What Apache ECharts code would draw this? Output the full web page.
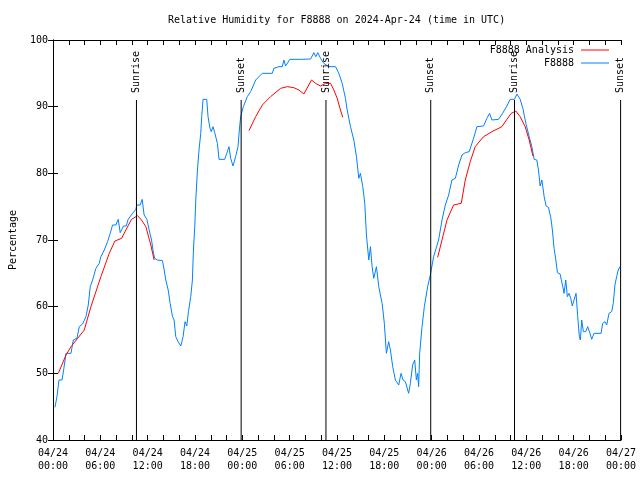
<!DOCTYPE html>
<html><head><meta charset="utf-8">
<script src="https://cdn.jsdelivr.net/npm/echarts@6/dist/echarts.min.js"></script>
<style>html,body{margin:0;padding:0;background:#fff}#c{width:640px;height:480px}</style>
</head><body><div id="c"></div>
<script>
const FONT = 'DejaVu Sans Mono';
const titleText = 'Relative Humidity for F8888 on 2024-Apr-24 (time in UTC)';
const yName = 'Percentage';
// x in hours since 04/24 00:00 UTC
const xTickLabels = ['04/24\n00:00','04/24\n06:00','04/24\n12:00','04/24\n18:00','04/25\n00:00','04/25\n06:00','04/25\n12:00','04/25\n18:00','04/26\n00:00','04/26\n06:00','04/26\n12:00','04/26\n18:00','04/27\n00:00'];
const obsHumidity = [[0.25,44.9],[0.5,46.5],[0.76,49],[1.14,49],[1.35,50.5],[1.65,53],[2.28,53],[2.57,55],[3.04,55.25],[3.33,57],[3.75,57.4],[4.18,58.5],[4.47,60.25],[4.72,63],[5.02,64],[5.44,65.75],[5.86,66.5],[6.07,67.5],[6.5,68.5],[6.92,69.75],[7.25,71],[7.55,72.25],[7.97,72.25],[8.27,73.1],[8.52,71.1],[8.94,72.1],[9.28,72.1],[9.53,73.1],[10.08,74],[10.5,74.6],[10.63,75.25],[11.05,75.25],[11.3,76.1],[11.55,73.75],[11.9,73.1],[12.19,71.5],[12.49,70],[12.74,68],[12.9,67.25],[13.24,67],[13.88,66.9],[14.09,65.5],[14.3,64],[14.6,62.5],[14.85,60.5],[15.15,58.5],[15.35,58],[15.56,55.5],[15.86,54.75],[16.2,54.1],[16.49,55.5],[16.74,57.75],[16.96,57.1],[17.17,59.25],[17.46,61.5],[17.67,64],[17.8,68.5],[17.97,72],[18.1,76],[18.31,80.5],[18.51,83.5],[18.73,86],[18.85,88.5],[19.02,91.1],[19.49,91.1],[19.65,88.5],[19.9,86.75],[20.06,86.25],[20.28,87],[20.5,86.1],[20.84,84.5],[21.05,82.1],[21.76,82.1],[22.02,83],[22.31,84],[22.52,82.25],[22.82,81.1],[23.15,82.5],[23.45,84],[23.62,86.5],[23.79,88.5],[24.13,90],[24.63,91.5],[25.05,92.25],[25.27,92.3],[25.69,94],[26.53,95],[27.8,95],[28,95.75],[28.64,96],[29.06,96],[29.27,97],[29.48,96.1],[30.03,97.1],[31.38,97.1],[32.65,97.15],[33.07,98.1],[33.32,97.5],[33.57,98.1],[33.91,97.25],[34.33,96.5],[34.96,96],[35.81,96],[36.23,95],[36.66,93.5],[37.07,91.25],[37.29,89.5],[37.71,87],[38.13,85],[38.47,82.5],[38.76,79.25],[38.97,80],[39.27,78],[39.52,75.5],[39.73,70.75],[40.03,67],[40.24,69],[40.45,66],[40.66,64.25],[41,66],[41.29,63],[41.72,60.5],[42,57.5],[42.26,53],[42.55,54.75],[42.77,53.5],[43.06,51],[43.4,49],[43.82,48.25],[44.12,50],[44.38,49],[44.67,48.75],[45.08,47],[45.3,48.5],[45.59,51.25],[45.85,52],[46.06,49],[46.22,50],[46.35,48],[46.48,53],[46.78,57],[47.07,60],[47.49,63],[47.83,64.75],[48.25,67.5],[48.88,70],[49.31,73],[49.73,75.25],[50.15,76.75],[50.57,79],[51,79.25],[51.42,81.25],[51.84,82.75],[52.26,83.1],[52.76,83.25],[53.31,85.25],[53.74,87],[54.58,87.1],[55,88.25],[55.34,89],[55.64,88],[56.48,88.1],[56.99,89],[57.53,90.1],[57.95,91.1],[58.5,91.1],[58.8,91.9],[59.22,91.1],[59.56,89.75],[59.94,87.5],[60.36,85.5],[60.7,84],[60.99,82.1],[61.33,82],[61.54,80.5],[61.75,78.1],[61.97,79],[62.26,76.5],[62.51,75.1],[62.8,74.9],[63.1,73.4],[63.3,71.5],[63.52,68.75],[63.74,67],[63.94,65.1],[64.28,64.9],[64.62,63],[64.78,62],[65,64],[65.2,61.5],[65.42,62],[65.63,61.25],[65.83,60.1],[66.05,61],[66.3,62],[66.51,58.5],[66.72,55.5],[66.85,55],[67.02,58],[67.23,56.25],[67.53,56.25],[67.78,57],[68.07,56],[68.29,55.1],[68.58,56],[69.47,56],[69.68,57.5],[69.97,57.75],[70.19,57.25],[70.48,59],[70.82,59.25],[71.02,60.5],[71.23,63.25],[71.45,64.5],[71.65,65.5],[71.87,66]];
const analysisDay1 = [[0.67,50],[1.65,52.75],[2.28,54],[3.12,55.25],[3.96,56.5],[4.81,60],[6.07,64.5],[7.13,68],[7.85,69.85],[8.69,70.25],[9.24,71.5],[9.95,73.1],[10.71,73.65],[11.22,73],[11.77,72],[12.4,69.25],[12.82,67]];
const analysisDay2 = [[24.84,86.4],[25.69,88.5],[26.53,90.25],[27.58,91.5],[28.85,92.75],[29.7,93],[30.53,92.85],[31.17,92.5],[31.8,91.9],[32.77,94],[33.28,93.5],[33.91,93.1],[34.54,93.5],[35.18,93.5],[35.6,92.5],[36.02,91.25],[36.44,89.5],[36.73,88.4]];
const analysisDay3 = [[48.76,67.4],[49.31,70],[49.94,73],[50.78,75.25],[51.75,75.5],[52.26,79],[52.89,81.75],[53.52,84],[54.58,85.5],[55.64,86.25],[56.9,87],[57.53,88.1],[58.08,89],[58.67,89.35],[59.22,88.5],[59.85,87],[60.36,85],[60.83,82.6]];
const sunTimes = [10.58, 23.85, 34.6, 47.88, 58.5, 71.95];
const sunLabels = ['Sunrise','Sunset','Sunrise','Sunset','Sunrise','Sunset'];
const sunLineTop = 91;

const chart = echarts.init(document.getElementById('c'), null, {renderer:'canvas'});
const tickCommon = {
  axisLine:{show:true, lineStyle:{color:'#000', width:1}},
  axisTick:{show:true, inside:true, length:5, lineStyle:{color:'#000'}},
  splitLine:{show:false}
};
const legendText = {fontFamily:FONT, fontSize:10, color:'#000', padding:[0,2,0,0]};
const redSeries = [analysisDay1, analysisDay2, analysisDay3].map(d => ({
  name:'F8888 Analysis', type:'line', data:d, showSymbol:false, symbol:'none',
  lineStyle:{color:'#ff0000', width:1}, itemStyle:{color:'#ff0000'}, z:3
}));
chart.setOption({
  animation:false,
  title:{text:titleText, left:168, top:15, padding:0,
    textStyle:{fontFamily:FONT, fontSize:10, fontWeight:'normal', color:'#000'}},
  legend:[
    {data:['F8888 Analysis'], right:31, top:45, align:'right', orient:'vertical', padding:0,
     icon:'rect', itemWidth:28, itemHeight:1, textStyle:legendText},
    {data:['F8888'], right:31, top:58, align:'right', orient:'vertical', padding:0,
     icon:'rect', itemWidth:28, itemHeight:1, textStyle:legendText}
  ],
  grid:{left:52, right:19, top:40, bottom:40, containLabel:false},
  xAxis:[
    Object.assign({type:'value', min:0, max:72, interval:6, position:'bottom',
      axisLabel:{fontFamily:FONT, fontSize:10, color:'#000', margin:7, lineHeight:13,
        formatter:v => xTickLabels[Math.round(v/6)]},
      minorTick:{show:true, splitNumber:3, length:5, lineStyle:{color:'#000'}}}, tickCommon),
    Object.assign({type:'value', min:0, max:72, interval:6, position:'top',
      axisLabel:{show:false},
      minorTick:{show:true, splitNumber:3, length:5, lineStyle:{color:'#000'}}}, tickCommon)
  ],
  yAxis:[
    Object.assign({type:'value', min:40, max:100, interval:10, position:'left',
      name:yName, nameLocation:'middle', nameGap:35,
      nameTextStyle:{fontFamily:FONT, fontSize:10, color:'#000'},
      axisLabel:{fontFamily:FONT, fontSize:10, color:'#000', margin:5}}, tickCommon),
    Object.assign({type:'value', min:40, max:100, interval:10, position:'right',
      axisLabel:{show:false}}, tickCommon)
  ],
  series:[
    ...redSeries,
    {name:'F8888', type:'line', data:obsHumidity, showSymbol:false, symbol:'none',
     lineStyle:{color:'#0080ff', width:1}, itemStyle:{color:'#0080ff'}, z:2},
    {type:'custom', silent:true, data:sunTimes.map(t => [t, 40]), encode:{x:0, y:1}, z:4,
     renderItem:(params, api) => {
       const t = api.value(0);
       const p0 = api.coord([t, 40]);
       const p1 = api.coord([t, sunLineTop]);
       return {type:'group', children:[
         {type:'line', shape:{x1:p0[0], y1:p0[1], x2:p1[0], y2:p1[1]}, style:{stroke:'#000', lineWidth:1}},
         {type:'text', x:p1[0], y:p1[1]-7, rotation:Math.PI/2,
          style:{text:sunLabels[params.dataIndex], font:'10px "DejaVu Sans Mono"', fill:'#000', align:'left', verticalAlign:'middle'}}
       ]};
     }}
  ]
});
</script></body></html>
